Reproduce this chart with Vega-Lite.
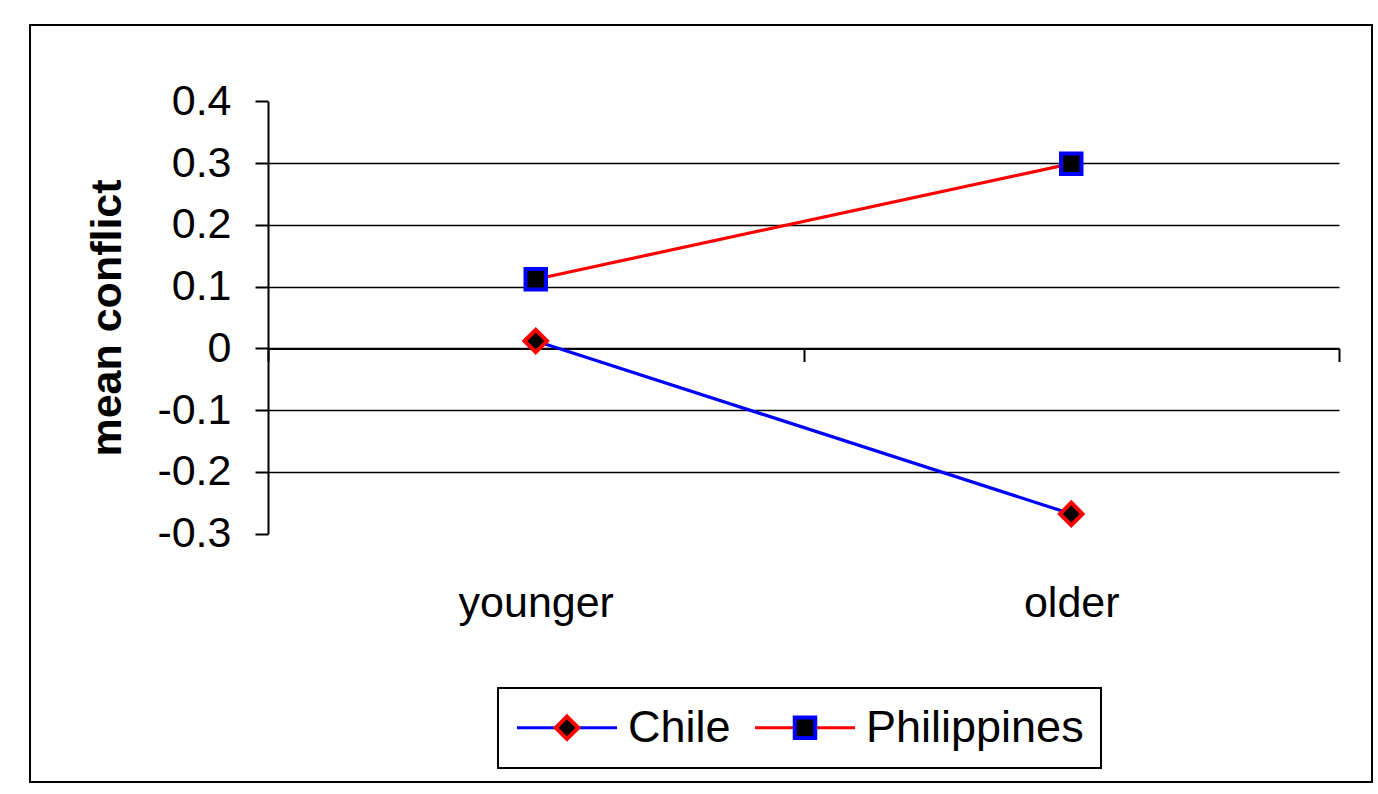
{
  "$schema": "https://vega.github.io/schema/vega-lite/v6.json",
  "width": 1342,
  "height": 757,
  "autosize": {"type": "none"},
  "padding": {"left": 30, "top": 25, "right": 6, "bottom": 12},
  "background": "white",
  "config": {
    "font": "Liberation Sans",
    "view": {"stroke": "black", "strokeWidth": 2}
  },
  "data": {
    "values": [
      {"country": "Chile", "age": "younger", "conflict": 0.012},
      {"country": "Chile", "age": "older", "conflict": -0.268},
      {"country": "Philippines", "age": "younger", "conflict": 0.112},
      {"country": "Philippines", "age": "older", "conflict": 0.299}
    ]
  },
  "layer": [
    {
      "mark": {"type": "line", "strokeWidth": 3.2},
      "encoding": {
        "x": {
          "field": "age", "type": "nominal", "sort": ["younger", "older"],
          "scale": {"type": "band", "range": [238, 1309], "paddingInner": 0, "paddingOuter": 0},
          "axis": {
            "title": null, "orient": "bottom", "offset": -433.5, "grid": false,
            "tickBand": "extent", "tickSize": 13, "tickWidth": 2, "tickColor": "black",
            "domainColor": "black", "domainWidth": 2,
            "labelFont": "Liberation Sans", "labelFontSize": 43, "labelColor": "black",
            "labelPadding": 221, "labelAngle": 0
          }
        },
        "y": {
          "field": "conflict", "type": "quantitative",
          "scale": {"domain": [-0.3, 0.4], "range": [508.7, 76.3], "nice": false, "zero": false},
          "axis": {
            "title": "mean conflict", "orient": "left", "offset": -238,
            "values": [-0.3, -0.2, -0.1, 0, 0.1, 0.2, 0.3, 0.4],
            "labelExpr": "toString(round(datum.value * 10) / 10)",
            "grid": true, "gridColor": "black", "gridWidth": 1.5,
            "gridOpacity": {"condition": {"test": "datum.value > 0.35 || datum.value < -0.25", "value": 0}, "value": 1},
            "tickSize": 13, "tickWidth": 2, "tickColor": "black",
            "domainColor": "black", "domainWidth": 2,
            "labelFont": "Liberation Sans", "labelFontSize": 43, "labelColor": "black", "labelPadding": 24,
            "titleFont": "Liberation Sans", "titleFontSize": 43, "titleFontWeight": "bold", "titleColor": "black",
            "titlePadding": 27
          }
        },
        "color": {
          "field": "country", "type": "nominal",
          "scale": {"domain": ["Chile", "Philippines"], "range": ["#0000ff", "#ff0000"]},
          "legend": {
            "title": null, "orient": "none", "legendX": 468, "legendY": 663,
            "direction": "horizontal", "columns": 2,
            "symbolType": "stroke", "symbolSize": 10000, "symbolStrokeWidth": 3.2,
            "clipHeight": 45, "labelFont": "Liberation Sans", "labelFontSize": 45, "labelOpacity": 0, "labelLimit": 0,
            "labelOffset": 9, "columnPadding": 22, "padding": 17,
            "strokeColor": "black", "zindex": 0,
            "encode": {"legend": {"update": {"strokeWidth": {"value": 2}}}}
          }
        }
      }
    },
    {
      "mark": {"type": "point", "filled": true, "fill": "black", "strokeWidth": 4, "size": 10000, "opacity": 1},
      "encoding": {
        "x": {"field": "age", "type": "nominal", "sort": ["younger", "older"]},
        "y": {"field": "conflict", "type": "quantitative"},
        "shape": {
          "field": "country", "type": "nominal",
          "scale": {"range": ["M-0.225,0L0,-0.225L0.225,0L0,0.225Z", "M-0.205,-0.205H0.205V0.205H-0.205Z"]},
          "legend": {
            "title": null, "orient": "none", "legendX": 468, "legendY": 663,
            "direction": "horizontal", "columns": 2,
            "symbolSize": 10000, "symbolStrokeWidth": 4, "symbolFillColor": "black",
            "clipHeight": 45, "labelFont": "Liberation Sans", "labelFontSize": 45, "labelColor": "black", "labelLimit": 0,
            "labelOffset": 9, "columnPadding": 22, "padding": 17, "zindex": 1
          }
        },
        "stroke": {
          "field": "country", "type": "nominal",
          "scale": {"range": ["#ff0000", "#0000ff"]},
          "legend": {
            "title": null, "orient": "none", "legendX": 468, "legendY": 663,
            "direction": "horizontal", "columns": 2,
            "symbolSize": 10000, "symbolStrokeWidth": 4, "symbolFillColor": "black",
            "clipHeight": 45, "labelFont": "Liberation Sans", "labelFontSize": 45, "labelColor": "black", "labelLimit": 0,
            "labelOffset": 9, "columnPadding": 22, "padding": 17, "zindex": 1
          }
        }
      }
    }
  ]
}
